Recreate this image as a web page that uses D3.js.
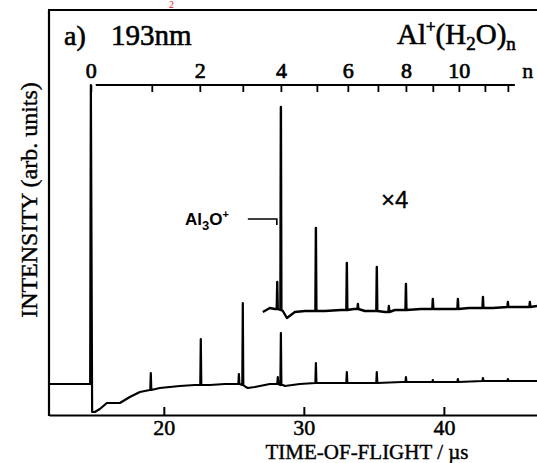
<!DOCTYPE html>
<html>
<head>
<meta charset="utf-8">
<script src="https://cdn.jsdelivr.net/npm/d3@7"></script>
<style>
html,body{margin:0;padding:0;background:#fff;}
svg{display:block;}
</style>
</head>
<body>
<svg id="chart" width="537" height="463"></svg>
<script>
// ---- data (time-of-flight in µs, intensity in arb. units) ----
const mainTrace = [
  [11.8,31],[14.74,31],[14.79,330],[14.88,3],[15.07,3],[15.43,6],[15.93,12],[16.86,12],
  [17.57,18],[18.29,23],[19.0,25],[19.71,27],[21.14,29],[22.21,30],[23.29,30],[24.36,31],
  [25.2,31],[25.85,28],[26.0,27],[26.5,28],[27.57,31],[28.5,30],[28.64,29],[29.71,31],
  [31.0,32],[33.0,32],[35.0,32],[37.0,33],[40.0,33],[43.0,34],[46.65,34]
];
// [time, base, top]
const mainPeaks = [
  [19.07,25,42],[22.64,30,76],[25.36,31,41],[25.64,30,112],[28.14,31,38],[28.36,30,82],
  [30.86,32,52],[33.07,32,43],[35.21,32,43],[37.29,33,38],[39.21,33,35],[41.0,33,36],
  [42.79,34,37],[44.57,34,36]
];
const x4Trace = [
  [27.07,103],[27.57,107],[27.93,106],[28.5,104],[28.79,97],[29.36,103],[30.07,104],
  [31.5,104],[32.64,105],[33.57,106],[34.36,104],[35.79,103],[36.5,105],[37.0,105],
  [38.36,106],[39.93,106],[41.79,107],[43.5,107],[45.36,108],[46.65,109]
];
const x4Peaks = [
  [28.1,106,133],[28.36,105,308],[30.86,104,187],[33.07,105,152],[33.86,106,111],
  [35.21,104,148],[36.07,103,109],[37.29,105,131],[39.21,106,116],[41.0,106,116],
  [42.79,107,118],[44.57,108,113],[46.14,108,113]
];
// Al+(H2O)n cluster positions (n, flight time)
const clusterN = [0,1,2,3,4,5,6,7,8,9,10,11,12];
const clusterT = [14.79,19.14,22.57,25.64,28.36,30.93,33.14,35.29,37.29,39.21,41.07,42.93,44.57];
const clusterLabels = [0,2,4,6,8,10];
const tofTicks = [20,30,40];

// ---- layout ----
const svg = d3.select("#chart");
const x = d3.scaleLinear().domain([11.8,46.65]).range([49,537]);
const y = d3.scaleLinear().domain([0,405]).range([415,10]);
const serif = "'Liberation Serif','Times New Roman',serif";
const sans = "'Liberation Sans',Arial,sans-serif";

function withPeaks(trace, peaks){
  const pts = trace.map(d=>({t:d[0],v:d[1]}));
  peaks.forEach(p=>{
    pts.push({t:p[0]-0.035,v:p[1]});
    pts.push({t:p[0],v:p[2]});
    pts.push({t:p[0]+0.035,v:p[1]});
  });
  pts.sort((a,b)=>a.t-b.t);
  return pts;
}
const line = d3.line().x(d=>x(d.t)).y(d=>y(d.v));
function ink(sel, w){ return sel.attr("fill","#000").attr("stroke","#000").attr("stroke-width",w); }

// frame: left and top
svg.append("line").attr("x1",49).attr("x2",49).attr("y1",10).attr("y2",416)
  .attr("stroke","#000").attr("stroke-width",2.2);
svg.append("line").attr("x1",48).attr("x2",537).attr("y1",10).attr("y2",10)
  .attr("stroke","#000").attr("stroke-width",2.2);

// bottom axis
const gx = svg.append("g").attr("transform","translate(0,415)")
  .call(d3.axisBottom(x).tickValues(tofTicks).tickSize(-8).tickSizeOuter(0).tickPadding(4));
gx.select(".domain").attr("stroke-width",2.2);
gx.selectAll(".tick line").attr("stroke-width",2);
ink(gx.selectAll("text").attr("font-family",serif).attr("font-size",22), 0.5);

ink(svg.append("text").attr("x",367).attr("y",458.5).attr("text-anchor","middle")
  .attr("font-family",serif).attr("font-size",21)
  .text("TIME-OF-FLIGHT / µs"), 0.4);

// y title
ink(svg.append("text").attr("transform","translate(37,200) rotate(-90)")
  .attr("text-anchor","middle").attr("font-family",serif).attr("font-size",24)
  .text("INTENSITY (arb. units)"), 0.4);

// top n axis
const gt = svg.append("g").attr("transform","translate(0,85)")
  .call(d3.axisTop(x).tickValues(clusterT).tickSize(-7).tickPadding(7)
    .tickFormat((t,i)=> clusterLabels.includes(clusterN[i]) ? String(clusterN[i]) : ""));
gt.select(".domain").remove();
gt.selectAll(".tick line").attr("stroke-width",1.8);
ink(gt.selectAll("text").attr("font-family",serif).attr("font-size",22), 0.7);
svg.append("line").attr("x1",x(15.14)).attr("x2",x(45.07)).attr("y1",85).attr("y2",85)
  .attr("stroke","#000").attr("stroke-width",2.2);
ink(svg.append("text").attr("x",x(45.6)).attr("y",78).attr("font-family",serif)
  .attr("font-size",22).text("n"), 0.5);

// traces
svg.append("path").datum(withPeaks(mainTrace,mainPeaks)).attr("d",line)
  .attr("fill","none").attr("stroke","#000").attr("stroke-width",2.2).attr("stroke-linejoin","round");
svg.append("path").datum(withPeaks(x4Trace,x4Peaks)).attr("d",line)
  .attr("fill","none").attr("stroke","#000").attr("stroke-width",2.4).attr("stroke-linejoin","round");

// titles
ink(svg.append("text").attr("x",64).attr("y",45).attr("font-family",serif).attr("font-size",28)
  .text("a)"), 0.6);
ink(svg.append("text").attr("x",111).attr("y",45).attr("font-family",serif).attr("font-size",29)
  .text("193nm"), 0.6);
const tt = ink(svg.append("text").attr("x",397).attr("y",44).attr("font-family",serif)
  .attr("font-size",29), 0.6);
tt.append("tspan").text("Al");
tt.append("tspan").attr("font-size",17).attr("dy",-12).text("+");
tt.append("tspan").attr("dy",12).text("(H");
tt.append("tspan").attr("font-size",19).attr("dy",6).text("2");
tt.append("tspan").attr("dy",-6).text("O)");
tt.append("tspan").attr("font-size",19).attr("dy",6).text("n");

// annotations
const al = svg.append("text").attr("x",185).attr("y",225).attr("font-family",sans)
  .attr("font-size",17).attr("font-weight","bold").attr("fill","#000");
al.append("tspan").text("Al");
al.append("tspan").attr("font-size",13).attr("dy",5).text("3");
al.append("tspan").attr("dy",-5).text("O");
al.append("tspan").attr("font-size",11).attr("dy",-7).text("+");
svg.append("path")
  .attr("d",`M${x(26.0)},${y(196)}H${x(28.07)}V${y(190)}`)
  .attr("fill","none").attr("stroke","#000").attr("stroke-width",1.6);
ink(svg.append("text").attr("x",381).attr("y",208).attr("font-family",sans).attr("font-size",24)
  .text("×4"), 0.3);

// stray red mark at top
svg.append("text").attr("x",169).attr("y",8).attr("font-family",serif).attr("font-size",10)
  .attr("fill","#e8201a").text("2");
</script>
</body>
</html>
